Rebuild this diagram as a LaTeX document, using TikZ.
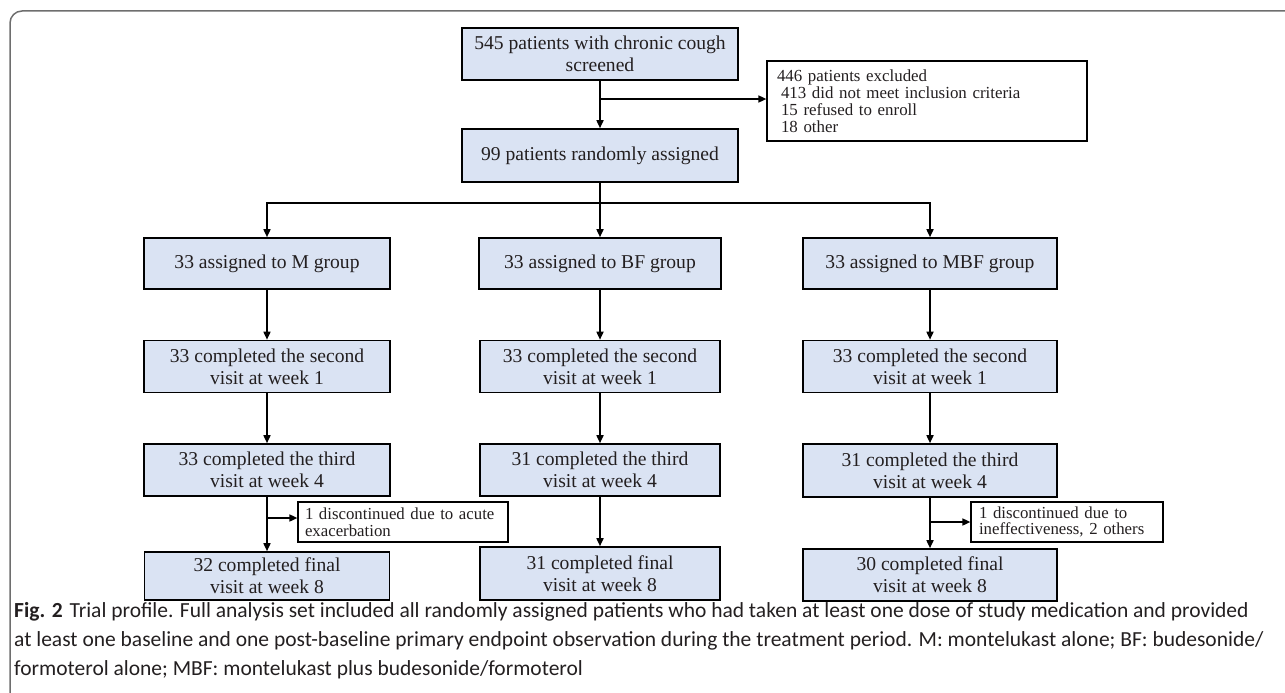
\documentclass[tikz,border=0pt]{standalone}
\usepackage{fontspec}
\setmainfont{Liberation Serif}
\newfontfamily\capfont{Carlito}
\usetikzlibrary{arrows.meta}
\definecolor{boxblue}{RGB}{218,227,243}
\definecolor{framegray}{RGB}{110,110,110}
\definecolor{captext}{RGB}{35,31,32}
\begin{document}
\begin{tikzpicture}[x=1pt,y=-1pt,
  mainbox/.style={draw=black, line width=1.6pt, fill=boxblue, align=center, inner sep=0pt,
    text=captext, font=\fontsize{19.6}{22}\selectfont},
  sidebox/.style={draw=black, line width=1.2pt, fill=white, align=left, inner sep=0pt,
    text=captext, font=\fontsize{16.8}{16.5}\selectfont},
  conn/.style={line width=1.6pt, -{Triangle[length=8pt,width=7pt]}},
  plain/.style={line width=1.6pt}]
\useasboundingbox (0,0) rectangle (1285,693);
\draw[framegray, line width=1.5pt, rounded corners=12pt] (10,700) -- (10,11) -- (1290,11);

% top
\node[mainbox, minimum width=276pt, minimum height=52pt] (A) at (600,54) {545 patients with chronic cough\\screened};
\node[sidebox, minimum width=320pt, minimum height=80pt, text width=300pt, font=\fontsize{16.9}{17}\selectfont] (X) at (927,101)
  {446 patients excluded\\\hspace*{4pt}413 did not meet inclusion criteria\\\hspace*{4pt}15 refused to enroll\\\hspace*{4pt}18 other};
\node[mainbox, minimum width=276pt, minimum height=53pt] (B) at (600,155.5) {99 patients randomly assigned};

% row 1
\node[mainbox, minimum width=246pt, minimum height=51pt] (M1) at (267,263.5) {33 assigned to M group};
\node[mainbox, minimum width=242pt, minimum height=51pt] (F1) at (600,263.5) {33 assigned to BF group};
\node[mainbox, minimum width=254pt, minimum height=51pt] (R1) at (930,263.5) {33 assigned to MBF group};
% row 2
\node[mainbox, minimum width=246pt, minimum height=52pt] (M2) at (267,366.5) {33 completed the second\\visit at week 1};
\node[mainbox, minimum width=240pt, minimum height=52pt] (F2) at (600,366.5) {33 completed the second\\visit at week 1};
\node[mainbox, minimum width=254pt, minimum height=52pt] (R2) at (930,366.5) {33 completed the second\\visit at week 1};
% row 3
\node[mainbox, minimum width=246pt, minimum height=52pt] (M3) at (267,470) {33 completed the third\\visit at week 4};
\node[mainbox, minimum width=240pt, minimum height=52pt] (F3) at (600,470) {31 completed the third\\visit at week 4};
\node[mainbox, minimum width=254pt, minimum height=53pt] (R3) at (930,470.5) {31 completed the third\\visit at week 4};
% row 4
\node[mainbox, minimum width=245pt, minimum height=48pt] (M4) at (267,576) {32 completed final\\visit at week 8};
\node[mainbox, minimum width=240pt, minimum height=53pt] (F4) at (600,573.5) {31 completed final\\visit at week 8};
\node[mainbox, minimum width=254pt, minimum height=52pt] (R4) at (930,575) {30 completed final\\visit at week 8};
% side boxes
\node[sidebox, minimum width=210pt, minimum height=40pt, text width=196pt] (SL) at (403,522)
  {1 discontinued due to acute\\exacerbation};
\node[sidebox, minimum width=192pt, minimum height=40pt, text width=176pt] (SR) at (1067,522)
  {1 discontinued due to\\ineffectiveness, 2 others};

% connectors
\coordinate (ex) at (600,99);
\coordinate (split) at (600,203);
\draw[conn] (A) -- (B);
\draw[conn] (ex) -- (X.west |- ex);
\draw[conn] (B) -- (F1);
\draw[conn] (split) -| (M1);
\draw[conn] (split) -| (R1);
\foreach \c in {M,F,R}{
  \draw[conn] (\c1) -- (\c2);
  \draw[conn] (\c2) -- (\c3);
  \draw[conn] (\c3) -- (\c4);
}
\coordinate (dl) at (267,518);
\coordinate (dr) at (930,522);
\draw[conn] (dl) -- (SL.west |- dl);
\draw[conn] (dr) -- (SR.west |- dr);

% caption
\node[anchor=west, align=left, inner sep=0pt, text=captext, font=\capfont\fontsize{21.5}{29}\selectfont] (cap) at (14,641)
  {\textbf{Fig. 2}\hspace{7pt}Trial profile. Full analysis set included all randomly assigned patients who had taken at least one dose of study medication and provided\\
   at least one baseline and one post-baseline primary endpoint observation during the treatment period. M: montelukast alone; BF: budesonide/\\
   formoterol alone; MBF: montelukast plus budesonide/formoterol};
\end{tikzpicture}
\end{document}
